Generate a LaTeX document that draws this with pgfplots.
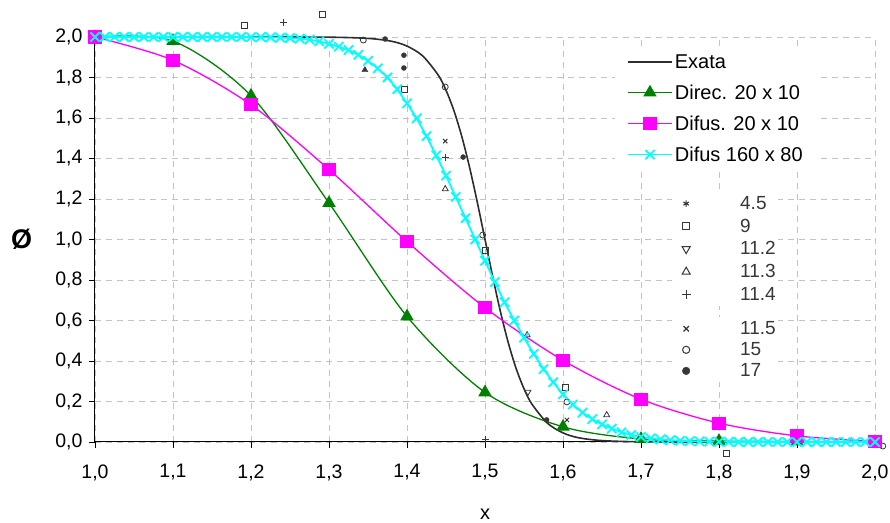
\documentclass[border=0pt]{standalone}
\usepackage{pgfplots}
\pgfplotsset{compat=1.18}
\usepackage{fontspec}
\setmainfont{Liberation Sans}
\definecolor{cgreen}{RGB}{0,128,0}
\definecolor{cmag}{RGB}{255,0,255}
\definecolor{ccyan}{RGB}{0,255,255}
\definecolor{cexact}{RGB}{45,45,45}
\definecolor{cgrid}{RGB}{195,195,195}
\definecolor{cscan}{RGB}{55,55,55}
\pgfplotsset{
  commonaxis/.style={
    scale only axis, width=780pt, height=405pt,
    xmin=1, xmax=2, ymin=0, ymax=2,
    at={(0,0)}, anchor=south west,
  },
  scanlegend/.style={
    commonaxis, hide axis,
    legend style={anchor=north west, draw=none, fill=white,
      font=\fontsize{19}{21}\selectfont, text=cscan,
      inner xsep=0pt, inner ysep=2pt,
      /tikz/every even column/.append style={column sep=0pt}},
    legend cell align=left,
    legend image code/.code={\path[draw=none,fill=none] (0pt,-3pt) rectangle (66pt,3pt); \draw[##1] plot coordinates {(14pt,0pt)};},
  },
}
\begin{document}
\begin{tikzpicture}
\begin{axis}[commonaxis, name=main, clip=false,
  axis x line*=bottom, axis y line*=left,
  axis line style={black, line width=1pt},
  xtick={1.0,1.1,1.2,1.3,1.4,1.5,1.6,1.7,1.8,1.9,2.0},
  ytick={0.0,0.2,0.4,0.6,0.8,1.0,1.2,1.4,1.6,1.8,2.0},
  tick align=outside, major tick length=6pt,
  tick style={black, line width=0.8pt},
  grid=major,
  major grid style={cgrid, line width=0.8pt, dash pattern=on 6pt off 5pt},
  tick label style={font=\fontsize{19.5}{22}\selectfont},
  x tick label style={yshift=-13pt, /pgf/number format/.cd, fixed, fixed zerofill, precision=1, use comma, assume math mode=true, /tikz/.cd},
  y tick label style={xshift=-3pt, /pgf/number format/.cd, fixed, fixed zerofill, precision=1, use comma, assume math mode=true, /tikz/.cd},
  xlabel={x}, ylabel={\textbf{Ø}},
  x label style={at={(axis description cs:0.5,-0.178)}, anchor=center, font=\fontsize{20}{24}\selectfont},
  y label style={at={(axis description cs:-0.094,0.5)}, rotate=-90, anchor=center, font=\fontsize{27}{30}\selectfont},
  legend style={at={(0.6665,0.9725)}, anchor=north west, draw=none, fill=white,
    font=\fontsize{20}{24}\selectfont, inner xsep=12pt, inner ysep=4pt, row sep=11pt,
    /tikz/every even column/.append style={column sep=8pt}},
  legend cell align=left,
  legend image code/.code={\draw[mark repeat=2, mark phase=2, #1] plot coordinates {(0pt,0pt) (22pt,0pt) (44pt,0pt)};},
]
% scanned background symbols
\addplot[forget plot, only marks, cscan, mark=square, mark size=3pt, line width=0.8pt] coordinates {(1.192,2.059) (1.292,2.113) (1.397,1.743) (1.5,0.948) (1.603,0.272) (1.81,-0.055)};
\addplot[forget plot, only marks, cscan, mark=triangle*, mark size=3.5pt] coordinates {(1.346,1.837)};
\addplot[forget plot, only marks, cscan, mark=triangle, mark size=3.5pt, line width=0.8pt] coordinates {(1.449,1.249) (1.554,0.528) (1.656,0.133)};
\addplot[forget plot, only marks, cscan, mark=triangle, mark size=3.5pt, line width=0.8pt, mark options={rotate=180}] coordinates {(1.555,0.247)};
\addplot[forget plot, only marks, cscan, mark=x, mark size=3pt, line width=1pt] coordinates {(1.449,1.486) (1.605,0.109)};
\addplot[forget plot, only marks, cscan, mark=+, mark size=3.5pt, line width=1pt] coordinates {(1.449,1.407) (1.242,2.07) (1.5,0.01)};
\addplot[forget plot, only marks, cscan, mark=o, mark size=3pt, line width=0.8pt] coordinates {(1.344,1.985) (1.449,1.753) (1.497,1.022) (1.605,0.198) (2.01,-0.02)};
\addplot[forget plot, only marks, cscan, mark=*, mark size=2.5pt] coordinates {(1.396,1.91) (1.396,1.847) (1.372,1.99) (1.472,1.407) (1.579,0.109)};
% main series
\addplot[cexact, line width=1.6pt, smooth, no markers] coordinates {
(1.00,2.000) (1.20,2.000) (1.30,1.999) (1.35,1.993) (1.38,1.979) (1.40,1.955) (1.42,1.907) (1.44,1.812) (1.45,1.737) (1.46,1.638) (1.47,1.512) (1.48,1.360) (1.49,1.186) (1.50,1.000) (1.51,0.814) (1.52,0.640) (1.53,0.488) (1.54,0.362) (1.55,0.263) (1.56,0.188) (1.58,0.093) (1.60,0.045) (1.62,0.021) (1.65,0.007) (1.70,0.001) (1.80,0.000) (2.00,0.000)};
\addlegendentry{Exata}
\addplot[cgreen, line width=1.3pt, smooth, mark=triangle*, mark size=6.5pt, mark options={solid}] coordinates {
(1.0,2.000) (1.1,1.980) (1.2,1.710) (1.3,1.180) (1.4,0.620) (1.5,0.245) (1.6,0.075) (1.7,0.015) (1.8,0.005) (1.9,0.002) (2.0,0.000)};
\addlegendentry{Direc. 20 x 10}
\addplot[cmag, line width=1.3pt, smooth, mark=square*, mark size=6pt, mark options={solid}] coordinates {
(1.0,2.000) (1.1,1.885) (1.2,1.665) (1.3,1.345) (1.4,0.990) (1.5,0.663) (1.6,0.403) (1.7,0.211) (1.8,0.093) (1.9,0.030) (2.0,0.003)};
\addlegendentry{Difus. 20 x 10}
\addplot[ccyan, line width=1.8pt, mark=x, mark size=6.5pt, mark options={solid}] table {
x y
1.0000 2.000
1.0125 2.000
1.0250 2.000
1.0375 2.000
1.0500 2.000
1.0625 2.000
1.0750 2.000
1.0875 2.000
1.1000 2.000
1.1125 2.000
1.1250 2.000
1.1375 2.000
1.1500 2.000
1.1625 2.000
1.1750 2.000
1.1875 2.000
1.2000 1.999
1.2125 1.999
1.2250 1.998
1.2375 1.997
1.2500 1.995
1.2625 1.992
1.2750 1.987
1.2875 1.978
1.3000 1.966
1.3125 1.952
1.3250 1.935
1.3375 1.912
1.3500 1.882
1.3625 1.845
1.3750 1.800
1.3875 1.742
1.4000 1.672
1.4125 1.598
1.4250 1.510
1.4375 1.415
1.4500 1.315
1.4625 1.210
1.4750 1.105
1.4875 1.000
1.5000 0.895
1.5125 0.790
1.5250 0.690
1.5375 0.600
1.5500 0.515
1.5625 0.435
1.5750 0.360
1.5875 0.295
1.6000 0.235
1.6125 0.185
1.6250 0.145
1.6375 0.113
1.6500 0.087
1.6625 0.066
1.6750 0.048
1.6875 0.035
1.7000 0.025
1.7125 0.018
1.7250 0.013
1.7375 0.009
1.7500 0.006
1.7625 0.004
1.7750 0.003
1.7875 0.002
1.8000 0.001
1.8125 0.001
1.8250 0.000
1.8375 0.000
1.8500 0.000
1.8625 0.000
1.8750 0.000
1.8875 0.000
1.9000 0.000
1.9125 0.000
1.9250 0.000
1.9375 0.000
1.9500 0.000
1.9625 0.000
1.9750 0.000
1.9875 0.000
2.0000 0.000
};
\addlegendentry{Difus 160 x 80}
\end{axis}
% scanned legend, upper part
\begin{axis}[scanlegend, legend style={at={(0.7397,0.617)}, row sep=4pt}]
\addlegendimage{cscan, mark=asterisk, mark size=3.2pt, line width=1.1pt}
\addlegendentry{4.5}
\addlegendimage{cscan, mark=square, mark size=3.6pt, line width=1pt}
\addlegendentry{9}
\addlegendimage{cscan, mark=triangle, mark size=4.6pt, line width=1pt, mark options={rotate=180}}
\addlegendentry{11.2}
\addlegendimage{cscan, mark=triangle, mark size=4.6pt, line width=1pt}
\addlegendentry{11.3}
\addlegendimage{cscan, mark=+, mark size=4.5pt, line width=1pt}
\addlegendentry{11.4}
\end{axis}
% scanned legend, lower part
\begin{axis}[scanlegend, legend style={at={(0.7397,0.308)}, row sep=2.5pt}]
\addlegendimage{cscan, mark=x, mark size=3.8pt, line width=1.2pt}
\addlegendentry{11.5}
\addlegendimage{cscan, mark=o, mark size=3.6pt, line width=1pt}
\addlegendentry{15}
\addlegendimage{cscan, mark=*, mark size=3.8pt}
\addlegendentry{17}
\end{axis}
\pgfresetboundingbox
\path[use as bounding box] ([shift={(-95pt,-81pt)}]main.south west) rectangle ([shift={(15pt,37pt)}]main.north east);
\end{tikzpicture}
\end{document}
